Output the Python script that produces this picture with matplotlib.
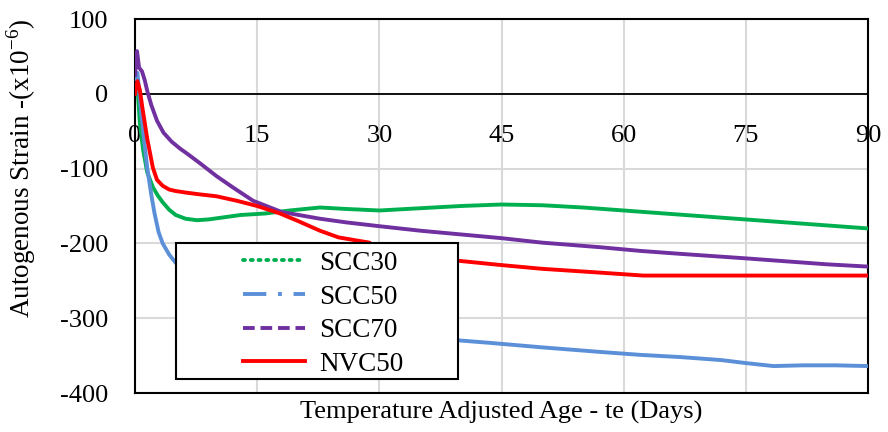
import matplotlib
matplotlib.use("Agg")
import matplotlib.pyplot as plt
from matplotlib.lines import Line2D
from matplotlib.patches import Rectangle

plt.rcParams['font.family'] = ['Liberation Serif', 'DejaVu Serif']
plt.rcParams['axes.unicode_minus'] = False
plt.rcParams['mathtext.fontset'] = 'custom'
plt.rcParams['mathtext.rm'] = 'Liberation Serif'

# age (days) and strain (x10^-6)
scc30_x = [0.0, 0.3, 0.6, 1.0, 1.5, 2.2, 2.8, 3.4, 4.2, 5.0, 6.2, 7.6, 9.0, 11.0, 13.0, 16.0, 19.0, 22.7, 26.0, 30.0, 35.0, 40.0, 45.0, 50.0, 55.0, 60.0, 65.0, 70.0, 75.0, 80.0, 85.0, 90.0]
scc30_y = [5, 10, -40, -75, -105, -125, -136, -145, -155, -162, -167, -169, -168, -165, -162, -160, -156, -152, -154, -156, -153, -150, -148, -149, -152, -156, -160, -164, -168, -172, -176, -180]

scc50_x = [0.0, 0.3, 0.8, 1.2, 1.5, 2.0, 2.4, 2.9, 3.4, 4.2, 5.0, 6.0, 7.0, 8.4, 11.0, 13.8, 17.0, 19.9, 24.0, 28.9, 34.0, 39.0, 43.6, 50.0, 57.0, 62.0, 67.0, 72.0, 75.0, 78.4, 82.0, 86.0, 90.0]
scc50_y = [20, 28, -30, -70, -99, -135, -160, -185, -200, -215, -226, -237, -243, -245, -245, -247, -255, -265, -285, -303, -318, -329, -333, -339, -345, -349, -352, -356, -360, -364, -363, -363, -364]

scc70_x = [0.0, 0.25, 0.5, 0.86, 1.2, 1.5, 2.0, 2.7, 3.5, 4.5, 5.5, 6.4, 8.0, 10.0, 12.0, 14.5, 18.0, 22.7, 26.0, 30.0, 35.0, 40.0, 45.0, 50.0, 57.0, 62.0, 67.0, 75.0, 80.0, 85.0, 90.0]
scc70_y = [25, 57, 35, 30, 18, 4, -15, -36, -52, -64, -73, -80, -93, -110, -125, -143, -158, -167, -172, -177, -183, -188, -193, -199, -205, -210, -214, -220, -224, -228, -231]

nvc50_x = [0.0, 0.3, 0.6, 0.9, 1.5, 2.2, 2.7, 3.4, 4.2, 5.0, 6.2, 7.6, 10.0, 12.5, 15.0, 17.8, 20.0, 22.7, 25.0, 28.8, 29.0, 32.0, 36.0, 39.5, 45.0, 50.0, 57.0, 62.4, 65.0, 75.0, 90.0]
nvc50_y = [0, 17, 5, -18, -60, -99, -115, -123, -128, -130, -132, -134, -137, -143, -150, -160, -170, -183, -192, -199, -204, -209, -216, -223, -229, -234, -239, -243, -243, -243, -243]

series_names = ['SCC30', 'SCC50', 'SCC70', 'NVC50']
series_colors = ['#00b050', '#5b8fd8', '#7030a0', '#ff0000']

fig = plt.figure(figsize=(8.88, 4.32), dpi=100)
ax = fig.add_axes([135/888, 1 - 393/432, 733/888, 374/432])

data = [(scc30_x, scc30_y), (scc50_x, scc50_y), (scc70_x, scc70_y), (nvc50_x, nvc50_y)]
for (xs, ys), c in zip(data, series_colors):
    ax.plot(xs, ys, color=c, lw=2.8, solid_joinstyle='round', zorder=3)

ax.set_xlim(0, 90)
ax.set_ylim(-400, 100)
ax.set_yticks(range(-400, 101, 100))
ax.set_xticks(range(0, 91, 15))
ax.grid(True, color='#d9d9d9', lw=1.5, zorder=0)
ax.set_axisbelow(True)
ax.axhline(0, color='black', lw=1.3, zorder=2)
for s in ax.spines.values():
    s.set_color('black')
    s.set_linewidth(1.5)

ax.tick_params(axis='both', length=0, labelsize=19)
# x tick labels sit just under the zero line
ax.tick_params(axis='x', pad=-193)
ax.tick_params(axis='y', pad=19)

ax.set_xlabel('Temperature Adjusted Age - te (Days)', fontsize=19, labelpad=6)
ax.set_ylabel('Autogenous Strain -(x10$^{\\mathregular{-6}}$)', fontsize=19.5)
ax.yaxis.set_label_coords(-0.133, 0.6)

handles = [
    Line2D([], [], color=series_colors[0], lw=2.8, linestyle=(0, (0.5, 1.5)), dash_capstyle='round'),
    Line2D([], [], color=series_colors[1], lw=2.8, linestyle=(0, (6, 3, 1, 3))),
    Line2D([], [], color=series_colors[2], lw=2.8, linestyle=(0, (3, 1.5))),
    Line2D([], [], color=series_colors[3], lw=2.8),
]
fig.patches.append(Rectangle((176/888, 1 - 379/432), 282/888, 136/432, transform=fig.transFigure,
                             fill=True, facecolor='white', edgecolor='black', lw=1.5, zorder=5))
leg = fig.legend(handles, series_names, loc='upper left', bbox_to_anchor=(224/888, 1 - 232/432),
                 frameon=False, fontsize=19.5, handlelength=2.3, handletextpad=0.5, labelspacing=0.32,
                 borderpad=0.2)
leg.set_zorder(6)

fig.savefig('out.png', dpi=100)
